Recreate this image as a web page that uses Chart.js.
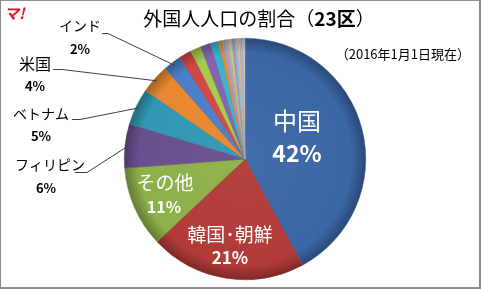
<!DOCTYPE html>
<html>
<head>
<meta charset="utf-8">
<script src="https://cdn.jsdelivr.net/npm/chart.js@4/dist/chart.umd.min.js"></script>
<style>
  html, body { margin: 0; padding: 0; background: #fff; }
  canvas { display: block; }
</style>
</head>
<body>
<canvas id="chart" width="481" height="289"></canvas>
<script>
// share of foreign residents, 23 wards (percent)
const categories = ['中国', '韓国･朝鮮', 'その他', 'フィリピン', 'ベトナム', '米国', 'インド',
  '', '', '', '', '', '', '', '', '', '', '', '', ''];
const shares = [42.1, 20.9, 10.8, 5.9, 4.9, 3.9, 2.4,
  1.7, 1.4, 1.4, 1.1, 0.5, 0.45, 0.4, 0.4, 0.4, 0.35, 0.35, 0.35, 0.3];
const sliceColors = ['#3b67a6', '#b23b38', '#8db04a', '#6a4f8f', '#3197b2', '#e8872f', '#4a7ec6',
  '#cf4844', '#a5cb4c', '#8464ad', '#3cb2cf', '#f08a28',
  '#93a9d3', '#d9a19e', '#bad192', '#a898c6', '#90c8da', '#f6b582', '#a9b8d6', '#c8c8c8'];

const TITLE = '外国人人口の割合（';
const TITLE_BOLD = '23区';
const SUBTITLE = '（2016年1月1日現在）';

// where Excel placed the labels (text centres)
const labelLayout = [
  { inside: true, name: [297, 121, 24], pct: [297, 153, 23] },
  { inside: true, name: [230, 235, 19], pct: [230, 258, 17] },
  { inside: true, name: [165, 183, 19], pct: [164, 207, 16] },
  { inside: false, name: [50, 165, 14], pct: [46, 188, 13], line: [75, 87, 172] },
  { inside: false, name: [41, 114, 14], pct: [41, 136, 13], line: [72, 80, 119] },
  { inside: false, name: [35, 64, 16], pct: [35, 86, 13], line: [53, 62, 69] },
  { inside: false, name: [80, 26, 14], pct: [80, 49, 13], line: [102, 108, 33] },
];

const FONT = '"Noto Sans CJK JP", "Noto Sans", sans-serif';

function shade(hex, amt) {
  const n = parseInt(hex.slice(1), 16);
  const r = n >> 16, g = (n >> 8) & 255, b = n & 255;
  const f = (c) => Math.max(0, Math.min(255, Math.round(amt < 0 ? c * (1 + amt) : c + (255 - c) * amt)));
  return `rgb(${f(r)},${f(g)},${f(b)})`;
}

const pageDeco = {
  id: 'pageDeco',
  beforeDraw(chart) {
    const c = chart.ctx;
    c.save();
    c.fillStyle = '#fff';
    c.fillRect(0, 0, chart.width, chart.height);
    c.restore();
  },
  afterDraw(chart) {
    const c = chart.ctx;
    c.save();
    // title
    c.textBaseline = 'middle';
    c.fillStyle = '#000';
    c.font = `19px ${FONT}`;
    const w1 = c.measureText(TITLE).width;
    c.font = `bold 19px ${FONT}`;
    const w2 = c.measureText(TITLE_BOLD).width;
    c.font = `19px ${FONT}`;
    const w3 = c.measureText('）').width;
    const x = 259 - (w1 + w2 + w3) / 2;
    c.textAlign = 'left';
    c.fillText(TITLE, x, 19);
    c.font = `bold 19px ${FONT}`;
    c.fillText(TITLE_BOLD, x + w1, 19);
    c.font = `19px ${FONT}`;
    c.fillText('）', x + w1 + w2, 19);
    // subtitle
    c.font = `13px ${FONT}`;
    c.textAlign = 'right';
    c.fillText(SUBTITLE, 470, 54);
    // logo
    c.fillStyle = '#e8161b';
    c.font = `italic bold 15px ${FONT}`;
    c.textAlign = 'left';
    c.fillText('マ!', 4, 13);
    // frame
    c.fillStyle = '#8c8c8c';
    c.fillRect(0, 0, 481, 1);
    c.fillRect(0, 0, 1, 288);
    c.fillRect(479, 0, 2, 288);
    c.fillRect(0, 287, 481, 2);
    c.restore();
  },
};

const sliceLabels = {
  id: 'sliceLabels',
  afterDatasetsDraw(chart) {
    const c = chart.ctx;
    const arcs = chart.getDatasetMeta(0).data;
    c.save();
    c.textAlign = 'center';
    c.textBaseline = 'middle';
    labelLayout.forEach((lay, i) => {
      const pct = Math.round(shares[i]) + '%';
      c.fillStyle = lay.inside ? '#fff' : '#000';
      c.font = `${lay.name[2]}px ${FONT}`;
      c.fillText(categories[i], lay.name[0], lay.name[1]);
      c.font = `bold ${lay.pct[2]}px ${FONT}`;
      c.fillText(pct, lay.pct[0], lay.pct[1]);
      if (!lay.inside) {
        const arc = arcs[i];
        const mid = (arc.startAngle + arc.endAngle) / 2;
        const r = arc.outerRadius - 3;
        c.strokeStyle = '#404040';
        c.lineWidth = 1;
        c.beginPath();
        c.moveTo(lay.line[0], lay.line[2] + 0.5);
        c.lineTo(lay.line[1], lay.line[2] + 0.5);
        c.lineTo(arc.x + Math.cos(mid) * r, arc.y + Math.sin(mid) * r);
        c.stroke();
      }
    });
    c.restore();
  },
};

const sliceFill = (ctx) => {
  const base = sliceColors[ctx.dataIndex];
  const a = ctx.chart.chartArea;
  if (!a) return base;
  const cx = (a.left + a.right) / 2;
  const cy = (a.top + a.bottom) / 2;
  const r = Math.min(a.width, a.height) / 2;
  const g = ctx.chart.ctx.createRadialGradient(cx, cy, 0, cx, cy, r);
  g.addColorStop(0, shade(base, 0.04));
  g.addColorStop(0.88, base);
  g.addColorStop(1, shade(base, -0.3));
  return g;
};

new Chart(document.getElementById('chart'), { // eslint-disable-line no-new
  type: 'pie',
  data: {
    labels: categories,
    datasets: [{
      data: shares,
      backgroundColor: sliceFill,
      borderColor: sliceColors.map((col) => shade(col, -0.15)),
      borderWidth: 0.5,
    }],
  },
  options: {
    responsive: false,
    animation: false,
    devicePixelRatio: 1,
    layout: { padding: { left: 124, right: 115, top: 38, bottom: 9 } },
    plugins: {
      legend: { display: false },
      tooltip: { enabled: false },
    },
  },
  plugins: [pageDeco, sliceLabels],
});
</script>
</body>
</html>
